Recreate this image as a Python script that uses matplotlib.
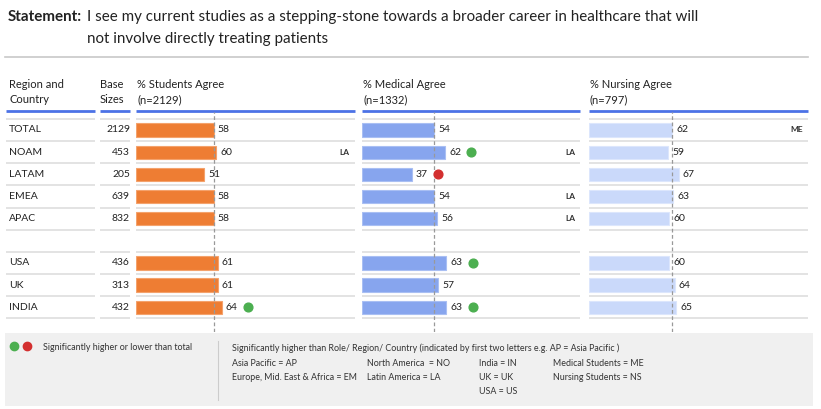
import matplotlib
matplotlib.use("Agg")
import matplotlib.pyplot as plt
from matplotlib.patches import Rectangle
from matplotlib.transforms import offset_copy

plt.rcParams['font.family'] = ['Lato', 'DejaVu Sans']

# ---------------- data ----------------
rows = ['TOTAL', 'NOAM', 'LATAM', 'EMEA', 'APAC', 'USA', 'UK', 'INDIA']
slots = [0, 1, 2, 3, 4, 6, 7, 8]
base_sizes = [2129, 453, 205, 639, 832, 436, 313, 432]
students = [58, 60, 51, 58, 58, 61, 61, 64]
medical = [54, 62, 37, 54, 56, 63, 57, 63]
nursing = [62, 59, 67, 63, 60, 60, 64, 65]
students_sig = [None, None, None, None, None, None, None, 'high']
medical_sig = [None, 'high', 'low', None, None, 'high', None, 'high']
nursing_sig = [None] * 8
students_letters = ['', 'LA', '', '', '', '', '', '']
medical_letters = ['', 'LA', '', 'LA', 'LA', '', '', '']
nursing_letters = ['ME', '', '', '', '', '', '', '']
panel_titles = ['% Students Agree\n(n=2129)', '% Medical Agree\n(n=1332)', '% Nursing Agree\n(n=797)']

W, H = 821, 409
fig = plt.figure(figsize=(W / 100, H / 100), dpi=100)
bg = fig.add_axes([0, 0, 1, 1])
bg.set_xlim(0, W)
bg.set_ylim(H, 0)
bg.axis('off')

ROW0, ROWH = 130.0, 22.15
def ypx(s):
    return ROW0 + ROWH * s

# title
tf = 10.9
bg.text(8, 17, 'Statement:', fontsize=tf, fontweight='bold', va='center', color='#222222')
bg.text(87, 17, 'I see my current studies as a stepping-stone towards a broader career in healthcare that will',
        fontsize=tf, va='center', color='#222222')
bg.text(87, 39, 'not involve directly treating patients', fontsize=tf, va='center', color='#222222')
bg.plot([5, 808], [57, 57], color='#C8C8C8', lw=1.2)

# headers
hdr_color = '#222222'
bg.text(9, 92, 'Region and\nCountry', fontsize=8, va='center', color=hdr_color, linespacing=1.45)
bg.text(100, 92, 'Base\nSizes', fontsize=8, va='center', color=hdr_color, linespacing=1.45)
col_segments = [(6, 95), (100, 130), (136, 355), (362, 580), (589, 808)]
for (x0, x1) in col_segments:
    bg.plot([x0, x1], [111, 111], color='#4C72E6', lw=2, solid_capstyle='butt')
    for k in range(10):
        yb = ypx(k - 0.5)
        bg.plot([x0, x1], [yb, yb], color='#E0E0E0', lw=1.3, solid_capstyle='butt')

for lab, s, b in zip(rows, slots, base_sizes):
    bg.text(9, ypx(s), lab, fontsize=7.5, va='center', color='#222222')
    bg.text(130, ypx(s), str(b), fontsize=7.5, va='center', ha='right', color='#222222')

# panels
panels = [
    (136, students, students_sig, students_letters, '#EE7D33', '#F4A26C'),
    (362, medical, medical_sig, medical_letters, '#87A5EE', '#A9BFF3'),
    (589, nursing, nursing_sig, nursing_letters, '#CAD9FA', '#DCE6FC'),
]
PXU = 1.34
panel_w = 219
top_px, bot_px = 112, 332
for (x0, vals, sig, letters, col, ecol), title in zip(panels, panel_titles):
    bg.text(x0 + 1, 92, title, fontsize=8, va='center', color=hdr_color, linespacing=1.45)
    ax = fig.add_axes([x0 / W, 1 - bot_px / H, panel_w / W, (bot_px - top_px) / H])
    ax.set_xlim(0, panel_w / PXU)
    ax.set_ylim((bot_px - ROW0) / ROWH, (top_px - ROW0) / ROWH)
    ax.axis('off')
    ax.patch.set_alpha(0)
    ax.barh(slots, vals, height=0.6, color=col, edgecolor=ecol, linewidth=0.8, zorder=2)
    ax.axvline(vals[0], color='#999999', lw=0.9, ls=(0, (3, 2)), zorder=3)
    tr = offset_copy(ax.transData, fig=fig, x=19, y=0, units='points')
    for s, v, sg, lt in zip(slots, vals, sig, letters):
        ax.annotate(str(v), (v, s), xytext=(3, 0), textcoords='offset points',
                    fontsize=7.5, va='center', ha='left', color='#222222', zorder=4)
        if sg:
            ax.plot([v], [s], marker='o', ms=6.3, color='#4CAF50' if sg == 'high' else '#D32F2F',
                    transform=tr, zorder=5, clip_on=False)
        if lt:
            ax.text(0.975, s, lt, transform=ax.get_yaxis_transform(), fontsize=6,
                    fontweight='bold', va='center', ha='right', color='#333333')

# legend box
bg.add_patch(Rectangle((5, 333), 808, 73, facecolor='#F0F0F0', edgecolor='none', zorder=0))
bg.plot([14], [346], marker='o', ms=6, color='#4CAF50')
bg.plot([27], [346], marker='o', ms=6, color='#D32F2F')
lf = 6.4
bg.text(43, 347, 'Significantly higher or lower than total', fontsize=lf, va='center', color='#333333')
bg.plot([218, 218], [341, 400], color='#CCCCCC', lw=0.8)
bg.text(232, 348, 'Significantly higher than Role/ Region/ Country (indicated by first two letters e.g. AP = Asia Pacific )',
        fontsize=lf, va='center', color='#333333')
leg_items = [
    (232, 364, 'Asia Pacific = AP'), (232, 377, 'Europe, Mid. East & Africa = EM'),
    (367, 364, 'North America  = NO'), (367, 377, 'Latin America = LA'),
    (479, 364, 'India = IN'), (479, 377, 'UK = UK'), (479, 391, 'USA = US'),
    (553, 364, 'Medical Students = ME'), (553, 377, 'Nursing Students = NS'),
]
for x, y, t in leg_items:
    bg.text(x, y, t, fontsize=lf, va='center', color='#333333')

fig.savefig('out.png', dpi=100)
